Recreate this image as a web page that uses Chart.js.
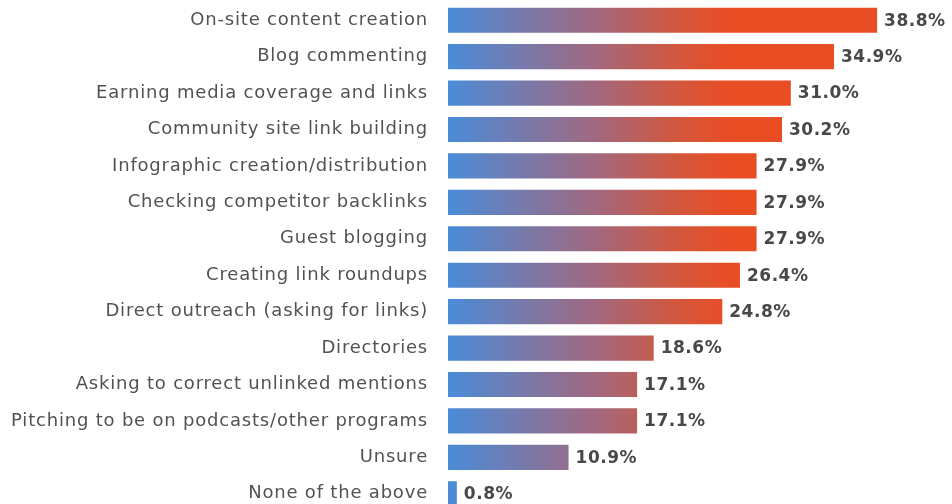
<!DOCTYPE html>
<html>
<head>
<meta charset="utf-8">
<script src="https://cdn.jsdelivr.net/npm/chart.js@4"></script>
<style>
  html, body { margin: 0; padding: 0; background: #ffffff; overflow: hidden; }
  #wrap { width: 952px; height: 512px; position: relative; }
</style>
</head>
<body>
<div id="wrap"><canvas id="chart"></canvas></div>
<script>
// Link building tactics and share of respondents using each (%)
const tactics = [
  "On-site content creation",
  "Blog commenting",
  "Earning media coverage and links",
  "Community site link building",
  "Infographic creation/distribution",
  "Checking competitor backlinks",
  "Guest blogging",
  "Creating link roundups",
  "Direct outreach (asking for links)",
  "Directories",
  "Asking to correct unlinked mentions",
  "Pitching to be on podcasts/other programs",
  "Unsure",
  "None of the above"
];
const shares = [38.8, 34.9, 31.0, 30.2, 27.9, 27.9, 27.9, 26.4, 24.8, 18.6, 17.1, 17.1, 10.9, 0.8];

// Blue-to-orange fill that runs along the value axis
function barFill(context) {
  const chart = context.chart;
  const area = chart.chartArea;
  if (!area) return '#4b8bd4';
  const xs = chart.scales.x;
  const g = chart.ctx.createLinearGradient(xs.getPixelForValue(0), 0, xs.getPixelForValue(25.5), 0);
  g.addColorStop(0, '#4a8cd8');
  g.addColorStop(0.5, '#9e6a83');
  g.addColorStop(0.8, '#d0583f');
  g.addColorStop(1, '#e94d24');
  return g;
}

// Looser tracking for the category labels
const labelTracking = {
  id: 'labelTracking',
  beforeDraw(chart) { chart.ctx.letterSpacing = '0.8px'; },
  afterDraw(chart) { chart.ctx.letterSpacing = '0px'; }
};

// Writes each bar's percentage just past its end
const valueLabels = {
  id: 'valueLabels',
  afterDatasetsDraw(chart) {
    const ctx = chart.ctx;
    const meta = chart.getDatasetMeta(0);
    ctx.save();
    ctx.letterSpacing = '0.5px';
    ctx.font = 'bold 17px "DejaVu Sans", sans-serif';
    ctx.fillStyle = '#484848';
    ctx.textAlign = 'left';
    ctx.textBaseline = 'middle';
    meta.data.forEach((bar, i) => {
      ctx.fillText(shares[i].toFixed(1) + '%', bar.x + 7, bar.y + 1);
    });
    ctx.restore();
  }
};

new Chart(document.getElementById('chart'), {
  type: 'bar',
  data: {
    labels: tactics,
    datasets: [{
      data: shares,
      backgroundColor: barFill,
      borderWidth: 0,
      categoryPercentage: 1,
      barPercentage: 0.69
    }]
  },
  options: {
    indexAxis: 'y',
    responsive: true,
    maintainAspectRatio: false,
    animation: false,
    layout: { padding: { top: 2, right: 0, bottom: 0, left: 0 } },
    plugins: { legend: { display: false }, tooltip: { enabled: false } },
    scales: {
      x: { display: false, min: 0, max: 45.57 },
      y: {
        grid: { display: false, drawBorder: false },
        border: { display: false },
        ticks: {
          color: '#525252',
          padding: 12,
          font: { family: '"DejaVu Sans", sans-serif', size: 18 }
        },
        afterFit(scale) {
          scale.width = 448;
          scale.paddingTop = 0;
          scale.paddingBottom = 0;
        }
      }
    }
  },
  plugins: [labelTracking, valueLabels]
});
</script>
</body>
</html>
